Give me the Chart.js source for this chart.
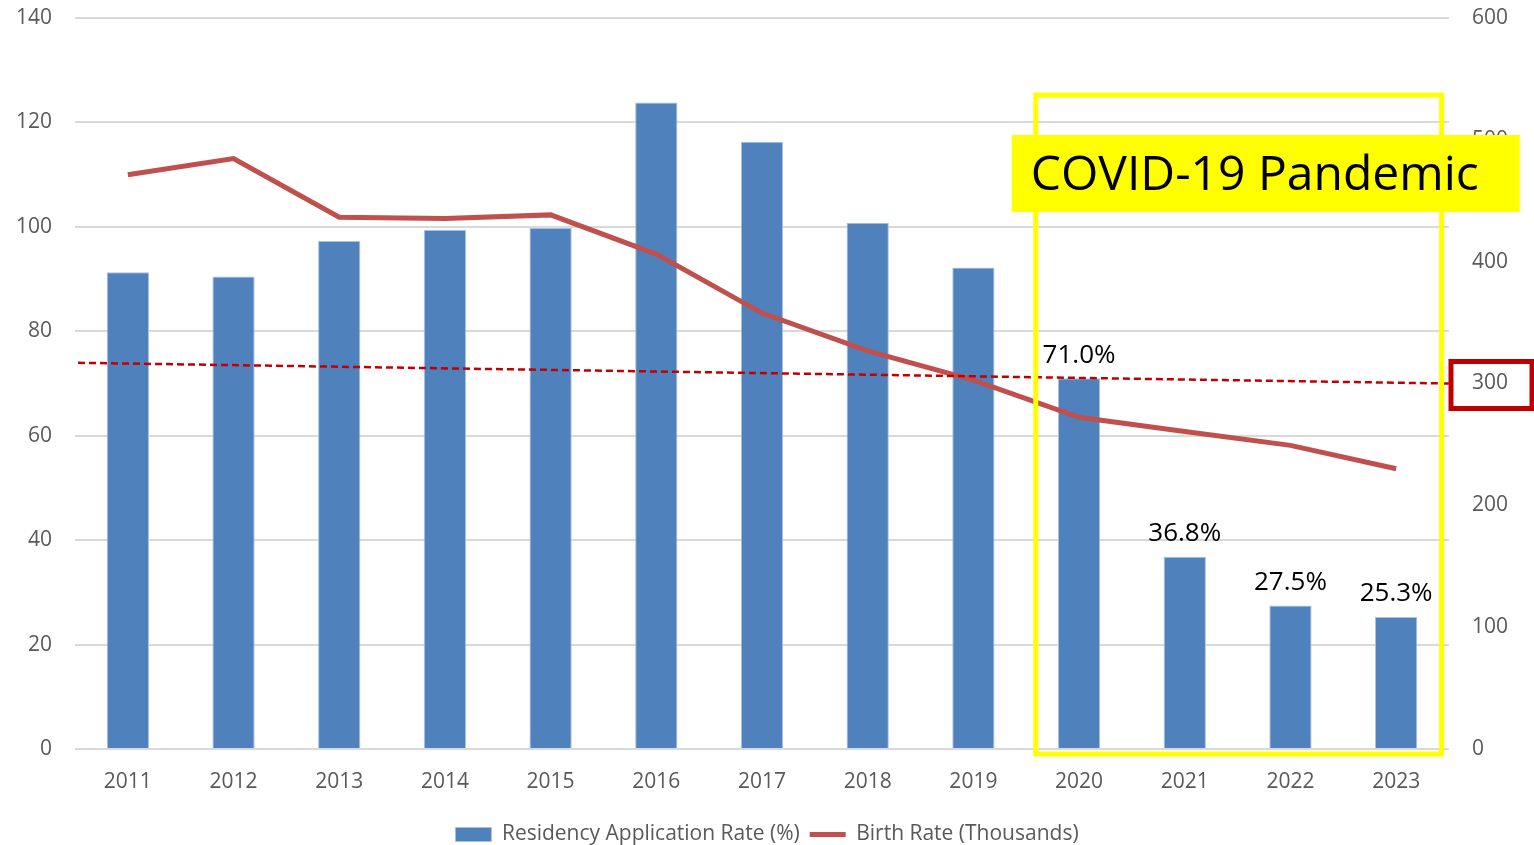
<!DOCTYPE html>
<html>
<head>
<meta charset="utf-8">
<script src="https://cdn.jsdelivr.net/npm/chart.js@4"></script>
<style>
  body { margin: 0; background: #fff; }
  #wrap { width: 1534px; height: 845px; position: relative; }
</style>
</head>
<body>
<div id="wrap"><canvas id="myChart"></canvas></div>
<script>
// data
const years = ['2011', '2012', '2013', '2014', '2015', '2016', '2017', '2018', '2019', '2020', '2021', '2022', '2023'];
const residencyRate = [91.3, 90.5, 97.3, 99.4, 99.8, 123.8, 116.3, 100.8, 92.2, 71.0, 36.8, 27.5, 25.3]; // %
const birthRate = [471.3, 484.6, 436.5, 435.4, 438.4, 406.2, 357.8, 326.8, 302.7, 272.3, 260.6, 249.2, 230.0]; // thousands
const leftTicks = [0, 20, 40, 60, 80, 100, 120, 140];
const rightTicks = [0, 100, 200, 300, 400, 500, 600];
const labelFrom = 9; // first year with a % label (2020)
const refLine = [317, 300]; // dashed line, right axis values at left / right edge
const covidText = 'COVID-19 Pandemic';

const FONT = "'Open Sans', 'Noto Sans', sans-serif";
const GREY = '#595959';

// extra drawing: dashed line, % labels, covid box, red box around 300
const overlay = {
  id: 'overlay',
  afterDatasetsDraw(chart) {
    const c = chart.ctx;
    const area = chart.chartArea;
    const x = chart.scales.x;
    const yL = chart.scales.y;
    const yR = chart.scales.y1;

    // dashed reference line
    c.save();
    c.strokeStyle = '#C00000';
    c.lineWidth = 2.5;
    c.setLineDash([7, 4]);
    c.beginPath();
    c.moveTo(area.left + 3, yR.getPixelForValue(refLine[0]));
    c.lineTo(area.right, yR.getPixelForValue(refLine[1]));
    c.stroke();
    c.restore();

    // % labels above the last bars
    c.save();
    c.font = '26px ' + FONT;
    c.fillStyle = '#000';
    c.textAlign = 'center';
    c.textBaseline = 'bottom';
    for (let i = labelFrom; i < years.length; i++) {
      const px = x.getPixelForValue(i);
      const py = yL.getPixelForValue(residencyRate[i]);
      c.fillText(residencyRate[i].toFixed(1) + '%', px, py - 10);
    }
    c.restore();

    // yellow frame round the covid years
    const step = x.getPixelForValue(1) - x.getPixelForValue(0);
    const fx0 = x.getPixelForValue(labelFrom) - 0.41 * step;
    const fx1 = x.getPixelForValue(years.length - 1) + 0.43 * step;
    c.save();
    c.strokeStyle = '#FFFF00';
    c.lineWidth = 5;
    c.strokeRect(fx0, 95, fx1 - fx0, area.bottom + 5 - 95);

    // covid label
    c.fillStyle = '#FFFF00';
    c.fillRect(fx0 - 24, 135, 508, 77);
    c.fillStyle = '#000';
    c.font = '48px ' + FONT;
    c.textAlign = 'left';
    c.textBaseline = 'middle';
    c.fillText(covidText, fx0 - 5, 176);
    c.restore();

    // red box round the 300 tick
    const y300 = yR.getPixelForValue(300);
    c.save();
    c.strokeStyle = '#C00000';
    c.lineWidth = 5;
    c.strokeRect(area.right + 2, y300 - 22, 81, 47);
    c.restore();
  }
};

// fixed side widths, no label overhang at top/bottom
const fitY = w => s => { s.width = w; s.paddingTop = 0; s.paddingBottom = 0; };

new Chart(document.getElementById('myChart'), {
  type: 'bar',
  data: {
    labels: years,
    datasets: [{
      label: 'Residency Application Rate (%)',
      data: residencyRate,
      backgroundColor: '#4F81BD',
      borderColor: '#A9C1E0',
      borderWidth: 1,
      categoryPercentage: 1,
      barPercentage: 0.4,
      yAxisID: 'y',
      order: 1,
      pointStyle: 'rect'
    }, {
      type: 'line',
      label: 'Birth Rate (Thousands)',
      data: birthRate,
      borderColor: '#C0504D',
      backgroundColor: '#C0504D',
      borderWidth: 5,
      pointRadius: 0,
      tension: 0,
      yAxisID: 'y1',
      order: 0,
      pointStyle: 'line'
    }]
  },
  options: {
    responsive: true,
    maintainAspectRatio: false,
    animation: false,
    layout: { padding: { top: 18, bottom: -10 } },
    plugins: {
      tooltip: { enabled: false },
      legend: {
        position: 'bottom',
        labels: {
          usePointStyle: true,
          pointStyleWidth: 36,
          boxHeight: 14,
          color: GREY,
          font: { family: FONT, size: 21 },
          padding: 10,
          sort: (a, b) => a.datasetIndex - b.datasetIndex
        }
      }
    },
    scales: {
      x: {
        afterFit: s => { s.height = 65; s.paddingLeft = 0; s.paddingRight = 0; },
        grid: { display: false, drawTicks: false },
        border: { display: false },
        ticks: { color: GREY, font: { family: FONT, size: 21 }, padding: 20 }
      },
      y: {
        position: 'left',
        min: 0,
        max: 140,
        afterBuildTicks: s => { s.ticks = leftTicks.map(v => ({ value: v })); },
        afterFit: fitY(75),
        grid: { color: '#D9D9D9', lineWidth: 2, drawTicks: false },
        border: { display: false },
        ticks: { color: GREY, font: { family: FONT, size: 21 }, padding: 23 }
      },
      y1: {
        position: 'right',
        min: 0,
        max: 600,
        afterBuildTicks: s => { s.ticks = rightTicks.map(v => ({ value: v })); },
        afterFit: fitY(85),
        grid: { display: false, drawTicks: false },
        border: { display: false },
        ticks: { color: GREY, font: { family: FONT, size: 21 }, padding: 23 }
      }
    }
  },
  plugins: [overlay]
});
</script>
</body>
</html>
